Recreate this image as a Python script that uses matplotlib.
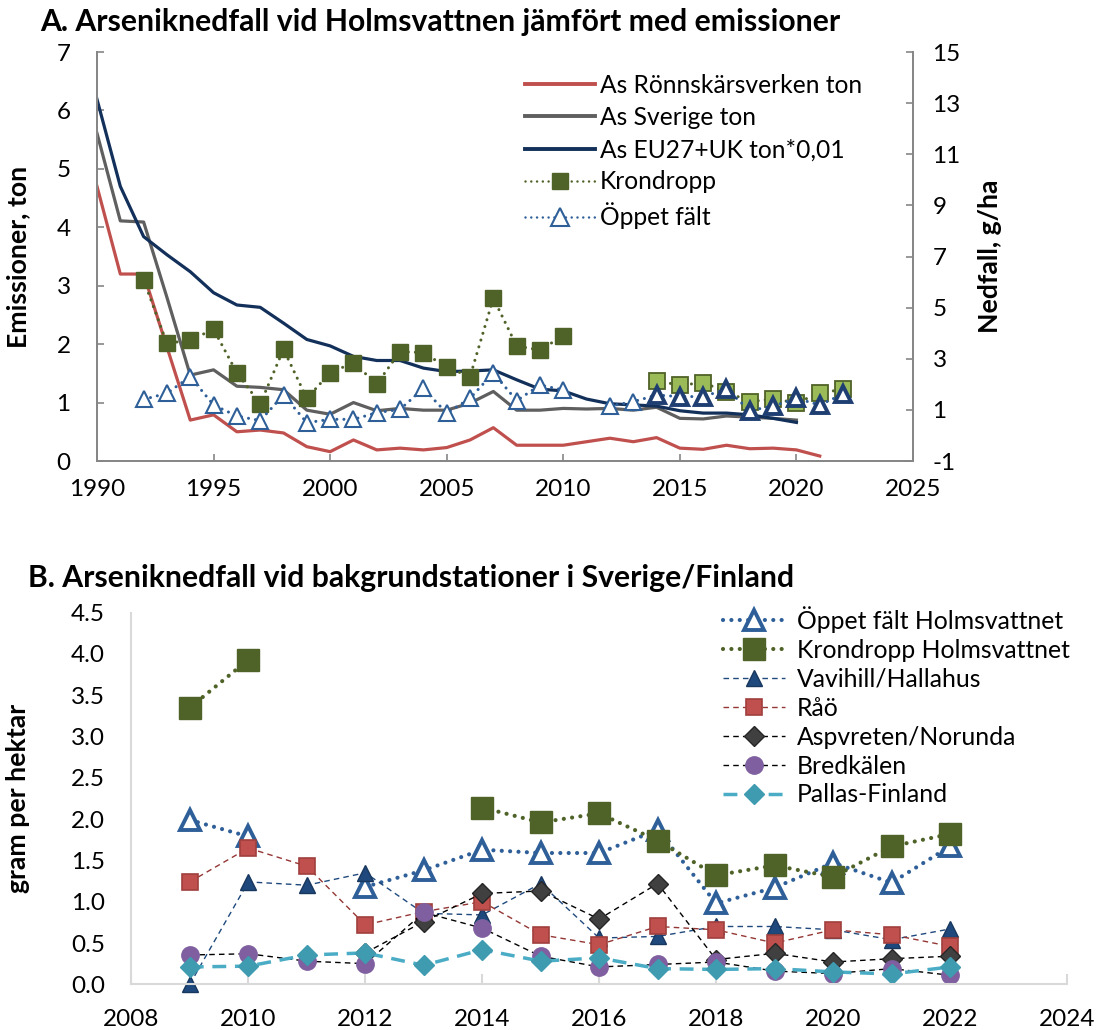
import numpy as np
import matplotlib
matplotlib.use("Agg")
import matplotlib.pyplot as plt
from matplotlib.lines import Line2D

plt.rcParams['font.family'] = ['Lato', 'DejaVu Sans']
plt.rcParams['axes.unicode_minus'] = False

# ---------------- Data: panel A ----------------
years_emis = list(range(1990, 2022))
as_ronnskar = [4.70, 3.20, 3.20, 1.95, 0.70, 0.79, 0.50, 0.53, 0.48, 0.245, 0.16, 0.36,
               0.19, 0.22, 0.19, 0.23, 0.36, 0.57, 0.27, 0.27, 0.27, 0.33, 0.39, 0.33,
               0.40, 0.22, 0.20, 0.27, 0.21, 0.22, 0.19, 0.085]
years_swe = list(range(1990, 2021))
as_sverige = [5.61, 4.11, 4.09, 2.80, 1.47, 1.56, 1.28, 1.26, 1.22, 0.87, 0.80, 1.00,
              0.86, 0.90, 0.87, 0.87, 0.99, 1.19, 0.87, 0.87, 0.90, 0.89, 0.90, 0.87,
              0.92, 0.73, 0.72, 0.77, 0.75, 0.73, 0.70]
as_eu = [6.19, 4.70, 3.84, 3.53, 3.24, 2.88, 2.67, 2.63, 2.36, 2.08, 1.97, 1.79,
         1.72, 1.72, 1.59, 1.53, 1.54, 1.56, 1.39, 1.23, 1.20, 1.06, 0.98, 0.96,
         0.94, 0.86, 0.82, 0.82, 0.79, 0.73, 0.66]

years_kron_a1 = list(range(1992, 2011))
kron_a1 = [6.08, 3.60, 3.73, 4.15, 2.45, 1.23, 3.37, 1.45, 2.45, 2.85, 2.01, 3.28,
           3.24, 2.67, 2.30, 5.37, 3.50, 3.34, 3.90]
years_a2 = list(range(2014, 2023))
kron_a2 = [2.13, 1.97, 2.06, 1.71, 1.32, 1.43, 1.28, 1.65, 1.81]

years_opp_a1 = list(range(1992, 2015))
opp_a1 = [1.41, 1.65, 2.30, 1.19, 0.76, 0.58, 1.58, 0.50, 0.63, 0.63, 0.89, 1.02,
          1.84, 0.87, 1.45, 2.45, 1.36, 1.97, 1.78, np.nan, 1.15, 1.32, 1.58]
opp_a2 = [1.58, 1.52, 1.52, 1.81, 0.97, 1.15, 1.45, 1.19, 1.62]

# ---------------- Data: panel B ----------------
years_b = list(range(2009, 2023))
nan = np.nan
opp_b = [1.99, 1.79, nan, 1.18, 1.38, 1.63, 1.59, 1.59, 1.87, 0.98, 1.17, 1.47, 1.23, 1.67]
kron_b = [3.35, 3.93, nan, nan, nan, 2.14, 1.96, 2.07, 1.74, 1.32, 1.44, 1.30, 1.67, 1.82]
vavihill = [0.0, 1.24, 1.20, 1.35, 0.86, 0.84, 1.22, 0.56, 0.58, 0.70, 0.70, 0.66, 0.54, 0.67]
rao = [1.24, 1.65, 1.43, 0.72, 0.88, 1.00, 0.60, 0.48, 0.70, 0.66, 0.50, 0.66, 0.60, 0.46]
aspvreten = [nan, nan, nan, 0.38, 0.76, 1.10, 1.13, 0.79, 1.22, 0.30, 0.375, 0.27, 0.31, 0.34]
bredkalen = [0.355, 0.37, 0.28, 0.25, 0.87, 0.68, 0.34, 0.21, 0.24, 0.27, 0.16, 0.13, 0.19, 0.11]
pallas = [0.21, 0.22, 0.355, 0.38, 0.23, 0.42, 0.28, 0.32, 0.19, 0.18, 0.19, 0.15, 0.125, 0.21]

W, H = 1099, 1030
fig = plt.figure(figsize=(W / 100, H / 100), dpi=100)

def ax_rect(l, t, r, b):
    return [l / W, 1 - b / H, (r - l) / W, (b - t) / H]

FS = 17.5
FSL_A = 17.7
FSL_B = 17.8
FS_TITLE = 21.7
FS_YL = 19.2
dot = (0, (0.01, 2.3))

# ---------------- Panel A ----------------
AL, AT, AR, AB = 97, 52, 913, 461
ax = fig.add_axes(ax_rect(AL, AT, AR, AB))
ax2 = ax.twinx()
ax.set_xlim(1990, 2025)
ax.set_ylim(0, 7)
ax2.set_ylim(-1, 15)
ax.set_xticks(range(1990, 2026, 5))
ax.set_yticks(range(0, 8))
ax2.set_yticks(range(-1, 16, 2))
spc = '#868686'
for a in (ax, ax2):
    for s in a.spines.values():
        s.set_color(spc)
        s.set_linewidth(1.3)
    a.spines['top'].set_visible(False)
ax.tick_params(axis='x', direction='in', length=5, width=1.2, color=spc, labelsize=FS, pad=13)
ax.tick_params(axis='y', direction='in', length=5, width=1.2, color=spc, labelsize=FS, pad=19)
ax2.tick_params(axis='y', direction='in', length=5, width=1.2, color=spc, labelsize=FS, pad=14)

l_red, = ax.plot(years_emis, as_ronnskar, color='#C0504D', lw=2.3)
l_gray, = ax.plot(years_swe, as_sverige, color='#5F5F5F', lw=2.3)
l_navy, = ax.plot(years_swe, as_eu, color='#12305A', lw=2.3)

ax2.plot(years_kron_a1, kron_a1, color='#4F6228', lw=2.2, ls=dot, dash_capstyle='round',
         marker='s', ms=11, mfc='#4F6228', mec='#4F6228')
ax2.plot(years_opp_a1, opp_a1, color='#2F5F98', lw=2.2, ls=dot, dash_capstyle='round',
         marker='^', ms=12, mfc='white', mec='#2F5F98', mew=1.5)
ax2.plot(years_a2, kron_a2, color='#4F6228', lw=2.2, ls=dot, dash_capstyle='round',
         marker='s', ms=11, mfc='#9BBB59', mec='#4F6228', mew=1.3)
ax2.plot(years_a2, opp_a2, color='#2F5F98', lw=2.2, ls=dot, dash_capstyle='round',
         marker='^', ms=12, mfc='white', mec='#1F3F73', mew=2.8)

hA = [Line2D([], [], color='#C0504D', lw=2.8),
      Line2D([], [], color='#5F5F5F', lw=2.8),
      Line2D([], [], color='#12305A', lw=2.8),
      Line2D([], [], color='#4F6228', lw=1.8, ls=dot, dash_capstyle='round', marker='s', ms=11,
             mfc='#4F6228', mec='#4F6228'),
      Line2D([], [], color='#2F5F98', lw=1.8, ls=dot, dash_capstyle='round', marker='^', ms=13,
             mfc='white', mec='#2F5F98', mew=1.5)]
labA = ['As Rönnskärsverken ton', 'As Sverige ton', 'As EU27+UK ton*0,01', 'Krondropp', 'Öppet fält']
ax2.legend(hA, labA, loc='upper left', bbox_to_anchor=(525 / W, 1 - 74 / H),
           bbox_transform=fig.transFigure, frameon=False, fontsize=FSL_A,
           handlelength=2.85, handletextpad=0.2, labelspacing=0.37, borderpad=0, borderaxespad=0)

ax.set_ylabel('Emissioner, ton', fontsize=FS_YL, fontweight='bold')
ax.yaxis.set_label_coords((30 - AL) / (AR - AL), 0.5)
ax2.set_ylabel('Nedfall, g/ha', fontsize=FS_YL, fontweight='bold')
ax2.yaxis.set_label_coords((978 - AL) / (AR - AL), 0.5)
fig.text(40 / W, 1 - 22 / H, 'A. Arseniknedfall vid Holmsvattnen jämfört med emissioner',
         fontsize=FS_TITLE, fontweight='bold', ha='left', va='center')

# ---------------- Panel B ----------------
BL, BT, BR, BB = 131.3, 612.7, 1067, 984.3
bx = fig.add_axes(ax_rect(BL, BT, BR, BB))
bx.set_xlim(2008, 2024)
bx.set_ylim(0, 4.5)
bx.set_xticks(range(2008, 2025, 2))
yt = np.arange(0, 4.51, 0.5)
bx.set_yticks(yt)
bx.set_yticklabels([f'{v:.1f}' for v in yt])
for s in ('top', 'right'):
    bx.spines[s].set_visible(False)
for s in ('left', 'bottom'):
    bx.spines[s].set_color('#D9D9D9')
    bx.spines[s].set_linewidth(1.5)
bx.tick_params(axis='x', direction='in', length=7, width=1.5, color='#D9D9D9', labelsize=FS, pad=18)
bx.tick_params(axis='y', length=0, labelsize=FS, pad=19)

bdot = (0, (0.01, 2.0))
dash = (0, (4, 3))
bx.plot(years_b, opp_b, color='#2F5F98', lw=3.0, ls=bdot, dash_capstyle='round',
        marker='^', ms=15, mfc='white', mec='#2F5F98', mew=2.8, label='Öppet fält Holmsvattnet',
        clip_on=False)
bx.plot(years_b, kron_b, color='#4F6228', lw=3.0, ls=bdot, dash_capstyle='round',
        marker='s', ms=15.5, mfc='#4F6228', mec='#4F6228', label='Krondropp Holmsvattnet',
        clip_on=False)
bx.plot(years_b, vavihill, color='#1F497D', lw=1.0, ls=dash,
        marker='^', ms=11, mfc='#1F497D', mec='#17375E', label='Vavihill/Hallahus', clip_on=False)
bx.plot(years_b, rao, color='#943634', lw=1.0, ls=dash,
        marker='s', ms=11, mfc='#C0504D', mec='#A0403D', mew=1.2, label='Råö', clip_on=False)
bx.plot(years_b, aspvreten, color='black', lw=1.0, ls=dash,
        marker='D', ms=10, mfc='#404040', mec='#262626', label='Aspvreten/Norunda', clip_on=False)
bx.plot(years_b, bredkalen, color='black', lw=1.0, ls=dash,
        marker='o', ms=12.5, mfc='#7F5F9F', mec='#7F5F9F', label='Bredkälen', clip_on=False)
bx.plot(years_b, pallas, color='#4BACC6', lw=2.5, ls=(0, (4, 2.5)),
        marker='D', ms=10, mfc='#3E9BB0', mec='#3E9BB0', label='Pallas-Finland', clip_on=False)

bx.legend(loc='upper left', bbox_to_anchor=(723 / W, 1 - 606 / H), bbox_transform=fig.transFigure,
          frameon=False, fontsize=FSL_B, handlelength=2.5, handletextpad=0.5,
          labelspacing=0.24, borderpad=0, borderaxespad=0)

bx.set_ylabel('gram per hektar', fontsize=FS_YL, fontweight='bold')
bx.yaxis.set_label_coords((30 - BL) / (BR - BL), 0.5)
fig.text(28 / W, 1 - 578 / H, 'B. Arseniknedfall vid bakgrundstationer i Sverige/Finland',
         fontsize=FS_TITLE, fontweight='bold', ha='left', va='center')

fig.savefig('out.png', dpi=100)
